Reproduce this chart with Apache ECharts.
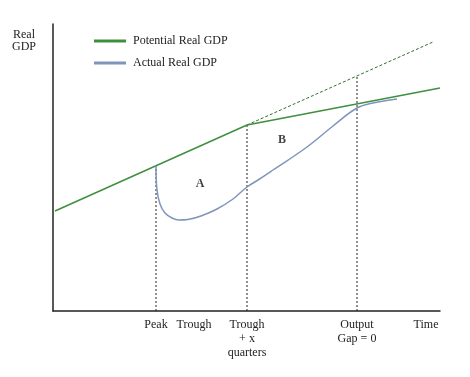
<!DOCTYPE html>
<html>
<head>
<meta charset="utf-8">
<script src="https://cdn.jsdelivr.net/npm/echarts@6/dist/echarts.min.js"></script>
<style>
  html, body { margin: 0; padding: 0; background: #fff; }
  #chart { width: 470px; height: 377px; }
</style>
</head>
<body>
<div id="chart"></div>
<script>
// values (x = time, y = real GDP, arbitrary units)
const potentialX = [2, 194, 387];
const potentialY = [100, 186, 223];

const trendX = [194, 380];
const trendY = [186, 269];

const actualX = [103, 104, 107, 112, 119, 126, 135, 148, 164, 180, 194, 205, 220, 254, 280, 304, 320, 344];
const actualY = [145, 121, 107, 98, 93, 91, 91.5, 95, 102, 112, 124, 131, 141, 164, 185, 203, 208, 212];

// dotted guides: peak, trough + x quarters, output gap = 0
const guideX = [103, 194, 304];
const guideTop = [145, 186, 235];

const tickValues = [103, 141, 194, 304, 373];
const tickLabels = ['Peak', 'Trough', 'Trough\n+ x\nquarters', 'Output\nGap = 0', 'Time'];

const areaNames = ['A', 'B'];
const areaX = [147, 229];
const areaY = [127, 171];

const serif = 'Liberation Serif';
const green = '#3f8f3f';
const blue = '#7f95bb';

const pairs = (xs, ys) => xs.map((x, i) => [x, ys[i]]);

const guideSeries = guideX.map((x, i) => ({
  type: 'line',
  data: [[x, 0], [x, guideTop[i]]],
  symbol: 'none',
  silent: true,
  lineStyle: { color: '#222', width: 1, type: [2, 2] },
  z: 1
}));

const chart = echarts.init(document.getElementById('chart'));
chart.setOption({
  animation: false,
  textStyle: { fontFamily: serif },
  grid: { left: 53, right: 30, top: 24, bottom: 66 },
  legend: {
    orient: 'vertical',
    left: 89,
    top: 30,
    itemWidth: 32,
    itemHeight: 3,
    itemGap: 10,
    icon: 'rect',
    data: ['Potential Real GDP', 'Actual Real GDP'],
    textStyle: { fontFamily: serif, fontSize: 12, color: '#222', padding: [0, 0, 0, 2] }
  },
  graphic: [{
    type: 'text',
    x: 24,
    y: 29,
    style: { text: 'Real\nGDP', font: '12px "Liberation Serif"', fill: '#222', align: 'center', lineHeight: 12 }
  }],
  xAxis: {
    type: 'value',
    min: 0,
    max: 387,
    splitLine: { show: false },
    axisLine: { lineStyle: { color: '#222', width: 1.5 } },
    axisTick: { show: false },
    axisLabel: {
      customValues: tickValues,
      formatter: (v) => tickLabels[tickValues.indexOf(v)] || '',
      margin: 7,
      fontFamily: serif,
      fontSize: 12,
      lineHeight: 14,
      color: '#222'
    }
  },
  yAxis: {
    type: 'value',
    min: 0,
    max: 287,
    splitLine: { show: false },
    axisLine: { show: true, lineStyle: { color: '#222', width: 1.5 } },
    axisTick: { show: false },
    axisLabel: { show: false }
  },
  series: [
    ...guideSeries,
    {
      type: 'line',
      data: pairs(trendX, trendY),
      symbol: 'none',
      silent: true,
      lineStyle: { color: '#2f6f2f', width: 1, type: [3, 2] },
      z: 2
    },
    {
      name: 'Potential Real GDP',
      type: 'line',
      data: pairs(potentialX, potentialY),
      symbol: 'none',
      color: green,
      lineStyle: { color: green, width: 1.5 },
      z: 3
    },
    {
      name: 'Actual Real GDP',
      type: 'line',
      data: pairs(actualX, actualY),
      symbol: 'none',
      smooth: 0.4,
      color: blue,
      lineStyle: { color: blue, width: 1.5 },
      z: 3
    },
    {
      type: 'scatter',
      data: areaNames.map((n, i) => ({ name: n, value: [areaX[i], areaY[i]] })),
      symbolSize: 0,
      silent: true,
      label: {
        show: true,
        position: 'inside',
        formatter: (p) => p.name,
        fontFamily: serif,
        fontWeight: 'bold',
        fontSize: 12,
        color: '#111'
      }
    }
  ]
});
</script>
</body>
</html>
